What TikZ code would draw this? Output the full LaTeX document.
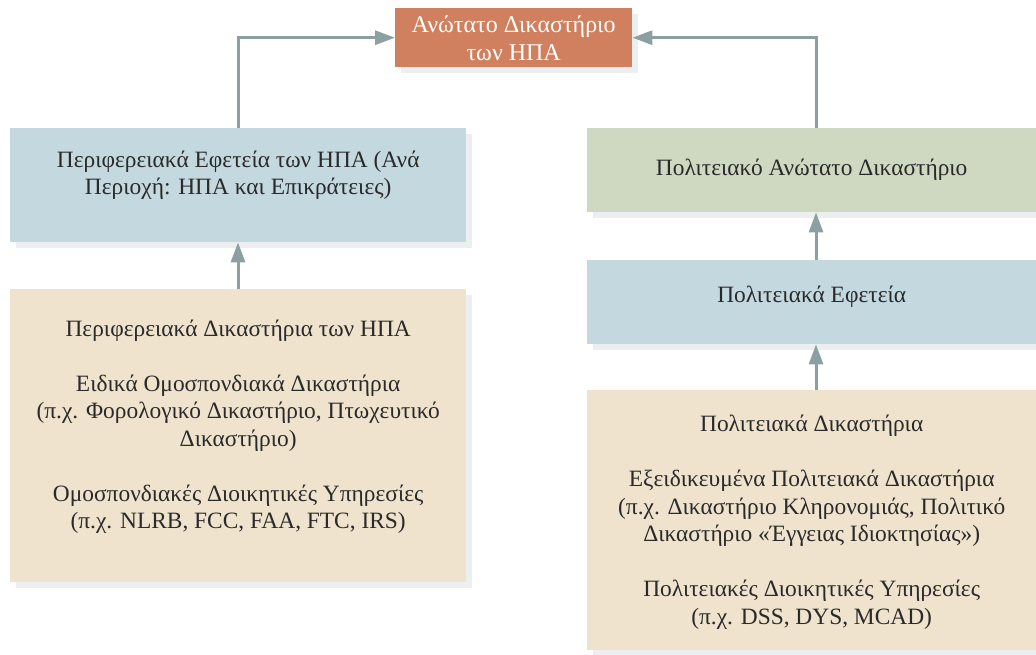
\documentclass[tikz,border=0pt]{standalone}
\usepackage{fontspec}
\setmainfont{Liberation Serif}
\usetikzlibrary{arrows.meta,shadows}
\definecolor{orangebox}{HTML}{D0805E}
\definecolor{bluebox}{HTML}{C4D8E0}
\definecolor{greenbox}{HTML}{CFD9C2}
\definecolor{beigebox}{HTML}{EFE3CD}
\definecolor{shadowc}{HTML}{ECEFEF}
\definecolor{arrowc}{HTML}{8C9FA1}
\definecolor{txtc}{HTML}{2A2A2A}
\begin{document}
\begin{tikzpicture}[x=1pt,y=1pt,
  box/.style={anchor=north west, inner sep=0pt, draw=none,
    drop shadow={shadow xshift=6pt, shadow yshift=-6pt, fill=shadowc, opacity=1}},
  txt/.style={align=center, text=txtc, font=\fontsize{23.4}{27.5}\selectfont, inner sep=0pt},
  conn/.style={draw=arrowc, line width=3pt, -{Triangle[width=14pt,length=20pt]}}
]
\useasboundingbox (0,0) rectangle (1036,-654);
% boxes
\node[box, fill=orangebox, minimum width=237pt, minimum height=59pt] (top) at (395,-8) {};
\node[box, fill=bluebox, minimum width=456pt, minimum height=114pt] (lblue) at (10,-128) {};
\node[box, fill=beigebox, minimum width=456pt, minimum height=293pt] (lbeige) at (10,-289) {};
\node[box, fill=greenbox, minimum width=449pt, minimum height=84pt] (green) at (587,-128) {};
\node[box, fill=bluebox, minimum width=449pt, minimum height=84pt] (rblue) at (587,-260) {};
\node[box, fill=beigebox, minimum width=449pt, minimum height=260pt] (rbeige) at (587,-390) {};
% texts
\node[txt, text=white, font=\fontsize{24}{27.5}\selectfont] (ttop) at ([yshift=-0.5pt]top.center) {Ανώτατο Δικαστήριο\\των ΗΠΑ};
\node[txt] (tlblue) at ([yshift=10pt]lblue.center) {Περιφερειακά Εφετεία των ΗΠΑ (Ανά\\Περιοχή: ΗΠΑ και Επικράτειες)};
\node[txt] (tlbeige) at ([yshift=9pt]lbeige.center) {Περιφερειακά Δικαστήρια των ΗΠΑ\\[27.5pt]Ειδικά Ομοσπονδιακά Δικαστήρια\\(π.χ. Φορολογικό Δικαστήριο, Πτωχευτικό\\Δικαστήριο)\\[27.5pt]Ομοσπονδιακές Διοικητικές Υπηρεσίες\\(π.χ. NLRB, FCC, FAA, FTC, IRS)};
\node[txt] (tgreen) at (green.center) {Πολιτειακό Ανώτατο Δικαστήριο};
\node[txt] (trblue) at ([yshift=5pt]rblue.center) {Πολιτειακά Εφετεία};
\node[txt] (trbeige) at ([yshift=-2pt]rbeige.center) {Πολιτειακά Δικαστήρια\\[27.5pt]Εξειδικευμένα Πολιτειακά Δικαστήρια\\(π.χ. Δικαστήριο Κληρονομιάς, Πολιτικό\\Δικαστήριο «Έγγειας Ιδιοκτησίας»)\\[27.5pt]Πολιτειακές Διοικητικές Υπηρεσίες\\(π.χ. DSS, DYS, MCAD)};
% connectors
\draw[conn] (lblue.north -| 238,0) |- (top.west);
\draw[conn] (green.north -| 816,0) |- (top.east);
\draw[conn] (lbeige.north -| 238,0) -- (lblue.south -| 238,0);
\draw[conn] (rbeige.north -| 816,0) -- (rblue.south -| 816,0);
\draw[conn] (rblue.north -| 816,0) -- (green.south -| 816,0);
\end{tikzpicture}
\end{document}
